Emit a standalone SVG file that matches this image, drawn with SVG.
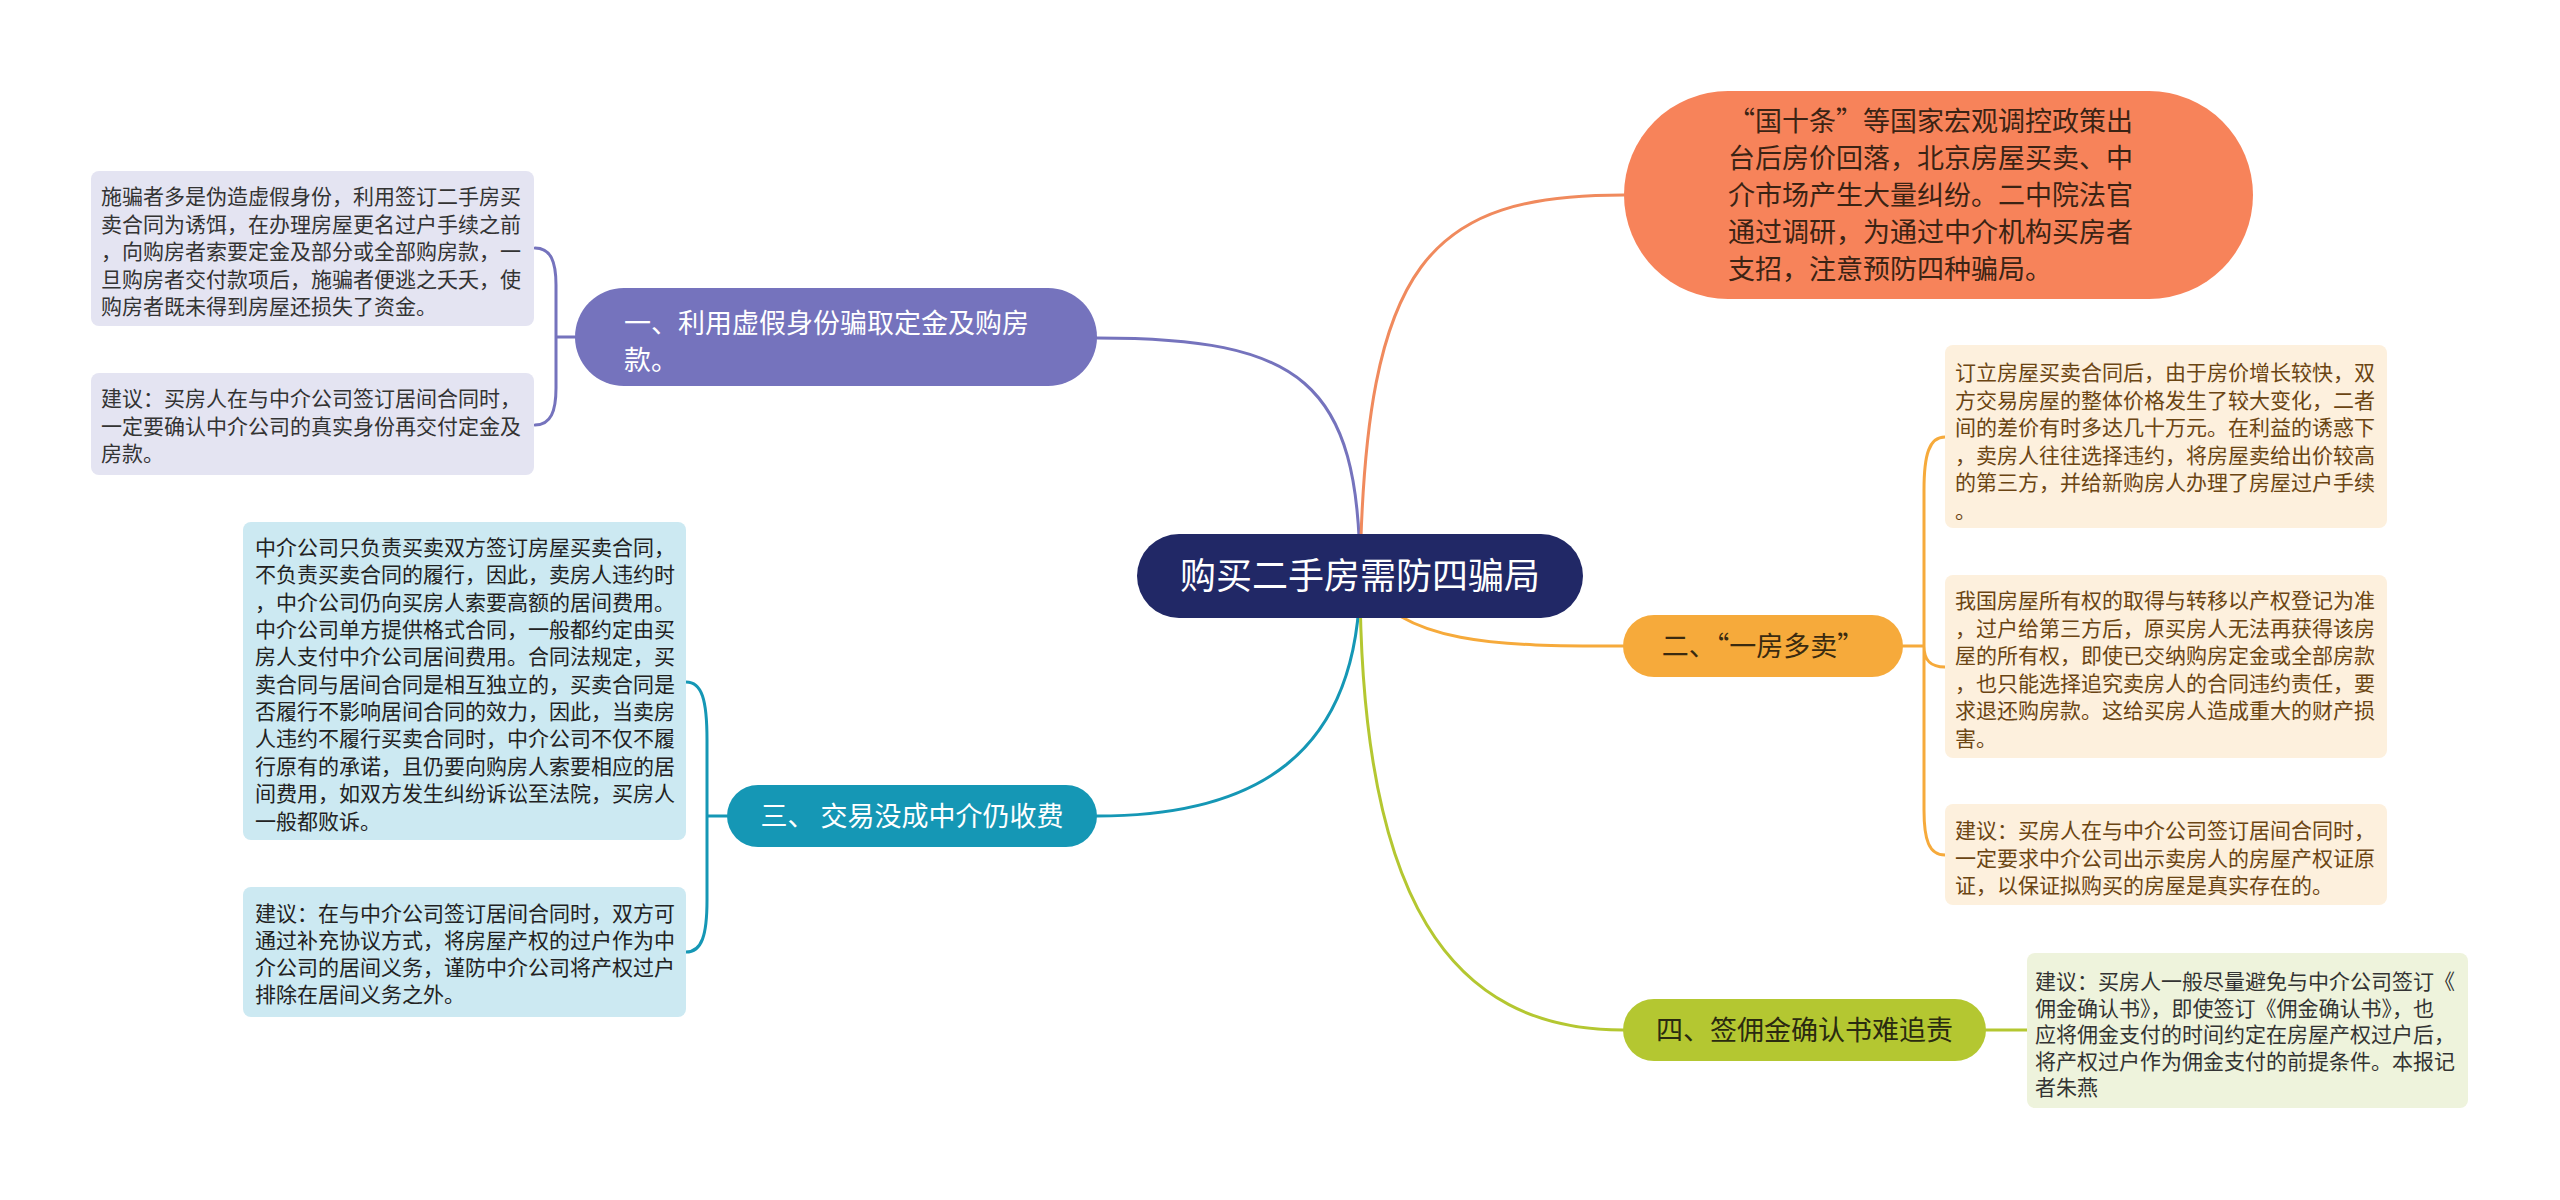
<svg xmlns="http://www.w3.org/2000/svg" width="2560" height="1200" viewBox="0 0 2560 1200">
<style>
text{font-family:"Noto Sans CJK SC","Noto Sans",sans-serif;}
.c{fill:none;stroke-width:3;stroke-linecap:round;}
.s{font-size:21px;}
.m{font-size:27px;}
</style>
<rect width="2560" height="1200" fill="#ffffff"/>
<g id="connectors">
  <path class="c" stroke="#7573bd" d="M1360,576 C1360,380 1300,338 1097,338"/>
  <path class="c" stroke="#f08a5d" d="M1360,576 C1365,260 1430,195 1624,195"/>
  <path class="c" stroke="#f6aa3b" d="M1360,576 C1400,646 1500,646 1623,646"/>
  <path class="c" stroke="#1597b5" d="M1360,576 C1360,760 1250,816 1097,816"/>
  <path class="c" stroke="#b4c731" d="M1360,576 C1360,900 1450,1030 1623,1030"/>
  <path class="c" stroke="#7573bd" d="M575,337 L556,337 M535,248 C551,248 556,262 556,285 L556,388 C556,411 551,425 535,425"/>
  <path class="c" stroke="#1597b5" d="M727,816 L707,816 M686,682 C702,682 707,700 707,740 L707,900 C707,935 702,952 686,952"/>
  <path class="c" stroke="#f6aa3b" d="M1903,646 L1924,646 M1945,437 C1929,437 1924,455 1924,490 L1924,810 C1924,840 1929,855 1945,855 M1924,646 C1924,660 1930,667 1945,667"/>
  <path class="c" stroke="#b4c731" d="M1986,1030 L2027,1030"/>
</g>
<g id="root">
  <rect x="1137" y="534" width="446" height="84" rx="42" fill="#212866"/>
  <text x="1360" y="589" font-size="36" fill="#ffffff" text-anchor="middle">购买二手房需防四骗局</text>
</g>
<g id="intro">
  <rect x="1624" y="91" width="629" height="208" rx="104" fill="#f7835a"/>
  <text class="m" fill="#3b2314">
    <tspan x="1728" y="131">“国十条”等国家宏观调控政策出</tspan>
    <tspan x="1728" y="168">台后房价回落，北京房屋买卖、中</tspan>
    <tspan x="1728" y="205">介市场产生大量纠纷。二中院法官</tspan>
    <tspan x="1728" y="242">通过调研，为通过中介机构买房者</tspan>
    <tspan x="1728" y="279">支招，注意预防四种骗局。</tspan>
  </text>
</g>
<g id="branch1">
  <rect x="575" y="288" width="522" height="98" rx="49" fill="#7573bd"/>
  <text class="m" fill="#ffffff">
    <tspan x="624" y="333">一、利用虚假身份骗取定金及购房</tspan>
    <tspan x="624" y="370">款。</tspan>
  </text>
</g>
<g id="b1-detail1">
  <rect x="91" y="171" width="443" height="155" rx="8" fill="#e4e4f2"/>
  <text class="s" fill="#333333">
    <tspan x="101" y="204">施骗者多是伪造虚假身份，利用签订二手房买</tspan>
    <tspan x="101" y="231.5">卖合同为诱饵，在办理房屋更名过户手续之前</tspan>
    <tspan x="101" y="259">，向购房者索要定金及部分或全部购房款，一</tspan>
    <tspan x="101" y="286.5">旦购房者交付款项后，施骗者便逃之夭夭，使</tspan>
    <tspan x="101" y="314">购房者既未得到房屋还损失了资金。</tspan>
  </text>
</g>
<g id="b1-detail2">
  <rect x="91" y="373" width="443" height="102" rx="8" fill="#e4e4f2"/>
  <text class="s" fill="#333333">
    <tspan x="101" y="406">建议：买房人在与中介公司签订居间合同时，</tspan>
    <tspan x="101" y="433.5">一定要确认中介公司的真实身份再交付定金及</tspan>
    <tspan x="101" y="461">房款。</tspan>
  </text>
</g>
<g id="branch2">
  <rect x="1623" y="615" width="280" height="62" rx="31" fill="#f6aa3b"/>
  <text x="1763" y="656" class="m" fill="#3a2a10" text-anchor="middle">二、“一房多卖”</text>
</g>
<g id="b2-detail1">
  <rect x="1945" y="345" width="442" height="183" rx="8" fill="#fdf0dd"/>
  <text class="s" fill="#6b4513">
    <tspan x="1955" y="380">订立房屋买卖合同后，由于房价增长较快，双</tspan>
    <tspan x="1955" y="407.5">方交易房屋的整体价格发生了较大变化，二者</tspan>
    <tspan x="1955" y="435">间的差价有时多达几十万元。在利益的诱惑下</tspan>
    <tspan x="1955" y="462.5">，卖房人往往选择违约，将房屋卖给出价较高</tspan>
    <tspan x="1955" y="490">的第三方，并给新购房人办理了房屋过户手续</tspan>
    <tspan x="1955" y="517.5">。</tspan>
  </text>
</g>
<g id="b2-detail2">
  <rect x="1945" y="575" width="442" height="183" rx="8" fill="#fdf0dd"/>
  <text class="s" fill="#6b4513">
    <tspan x="1955" y="608">我国房屋所有权的取得与转移以产权登记为准</tspan>
    <tspan x="1955" y="635.5">，过户给第三方后，原买房人无法再获得该房</tspan>
    <tspan x="1955" y="663">屋的所有权，即使已交纳购房定金或全部房款</tspan>
    <tspan x="1955" y="690.5">，也只能选择追究卖房人的合同违约责任，要</tspan>
    <tspan x="1955" y="718">求退还购房款。这给买房人造成重大的财产损</tspan>
    <tspan x="1955" y="745.5">害。</tspan>
  </text>
</g>
<g id="b2-detail3">
  <rect x="1945" y="804" width="442" height="101" rx="8" fill="#fdf0dd"/>
  <text class="s" fill="#6b4513">
    <tspan x="1955" y="838">建议：买房人在与中介公司签订居间合同时，</tspan>
    <tspan x="1955" y="865.5">一定要求中介公司出示卖房人的房屋产权证原</tspan>
    <tspan x="1955" y="893">证，以保证拟购买的房屋是真实存在的。</tspan>
  </text>
</g>
<g id="branch3">
  <rect x="727" y="785" width="370" height="62" rx="31" fill="#1597b5"/>
  <text x="912" y="826" class="m" fill="#ffffff" text-anchor="middle">三、 交易没成中介仍收费</text>
</g>
<g id="b3-detail1">
  <rect x="243" y="522" width="443" height="318" rx="8" fill="#cce9f2"/>
  <text class="s" fill="#222222">
    <tspan x="255" y="555">中介公司只负责买卖双方签订房屋买卖合同，</tspan>
    <tspan x="255" y="582.3">不负责买卖合同的履行，因此，卖房人违约时</tspan>
    <tspan x="255" y="609.7">，中介公司仍向买房人索要高额的居间费用。</tspan>
    <tspan x="255" y="637">中介公司单方提供格式合同，一般都约定由买</tspan>
    <tspan x="255" y="664.4">房人支付中介公司居间费用。合同法规定，买</tspan>
    <tspan x="255" y="691.7">卖合同与居间合同是相互独立的，买卖合同是</tspan>
    <tspan x="255" y="719">否履行不影响居间合同的效力，因此，当卖房</tspan>
    <tspan x="255" y="746.4">人违约不履行买卖合同时，中介公司不仅不履</tspan>
    <tspan x="255" y="773.8">行原有的承诺，且仍要向购房人索要相应的居</tspan>
    <tspan x="255" y="801.1">间费用，如双方发生纠纷诉讼至法院，买房人</tspan>
    <tspan x="255" y="828.5">一般都败诉。</tspan>
  </text>
</g>
<g id="b3-detail2">
  <rect x="243" y="887" width="443" height="130" rx="8" fill="#cce9f2"/>
  <text class="s" fill="#222222">
    <tspan x="255" y="921">建议：在与中介公司签订居间合同时，双方可</tspan>
    <tspan x="255" y="948">通过补充协议方式，将房屋产权的过户作为中</tspan>
    <tspan x="255" y="975">介公司的居间义务，谨防中介公司将产权过户</tspan>
    <tspan x="255" y="1002">排除在居间义务之外。</tspan>
  </text>
</g>
<g id="branch4">
  <rect x="1623" y="999" width="363" height="62" rx="31" fill="#b4c731"/>
  <text x="1804.5" y="1040" class="m" fill="#2a2a10" text-anchor="middle">四、签佣金确认书难追责</text>
</g>
<g id="b4-detail1">
  <rect x="2027" y="953" width="441" height="155" rx="8" fill="#eef3dc"/>
  <text class="s" fill="#333333">
    <tspan x="2035" y="989">建议：买房人一般尽量避免与中介公司签订《</tspan>
    <tspan x="2035" y="1015.5">佣金确认书》，即使签订《佣金确认书》，也</tspan>
    <tspan x="2035" y="1042">应将佣金支付的时间约定在房屋产权过户后，</tspan>
    <tspan x="2035" y="1068.5">将产权过户作为佣金支付的前提条件。本报记</tspan>
    <tspan x="2035" y="1095">者朱燕</tspan>
  </text>
</g>
</svg>
